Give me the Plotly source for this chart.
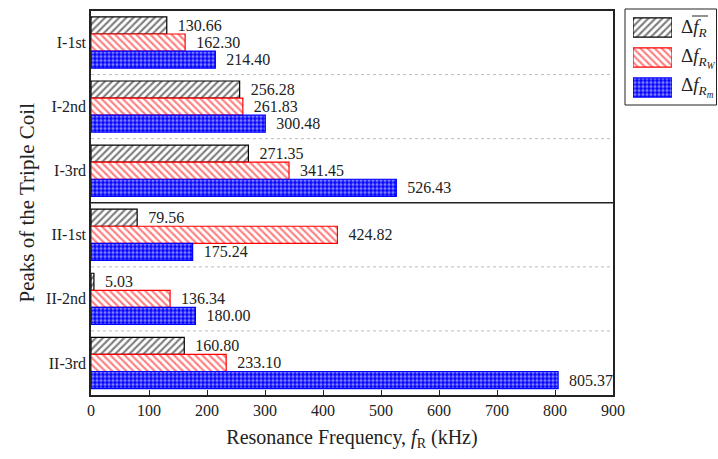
import plotly.graph_objects as go

categories = ["I-1st", "I-2nd", "I-3rd", "II-1st", "II-2nd", "II-3rd"]
avg_vals = [130.66, 256.28, 271.35, 79.56, 5.03, 160.80]
w_vals = [162.30, 261.83, 341.45, 424.82, 136.34, 233.10]
m_vals = [214.40, 300.48, 526.43, 175.24, 180.00, 805.37]
x_ticks = [0, 100, 200, 300, 400, 500, 600, 700, 800, 900]
legend_names = ["Δ<i>f</i><sub><i>R</i></sub>",
                "Δ<i>f</i><sub><i>R<sub>W</sub></i></sub>",
                "Δ<i>f</i><sub><i>R<sub>m</sub></i></sub>"]

FONT = "Liberation Serif, Times New Roman, serif"
W, H = 718, 459
ML, MR, MT, MB = 91, 2, 3, 64
PW, PH = W - ML - MR, H - MT - MB


def px_x(p):
    return (p - ML) / PW


def px_y(p):
    return (H - MB - p) / PH


styles = [
    dict(color="white", line=dict(color="black", width=1.2),
         pattern=dict(shape="/", fgcolor="black", bgcolor="white", size=5, solidity=0.42)),
    dict(color="white", line=dict(color="red", width=1.2),
         pattern=dict(shape="\\", fgcolor="red", bgcolor="white", size=5, solidity=0.42)),
    dict(color="blue", line=dict(color="blue", width=1.2),
         pattern=dict(shape=".", fgcolor="white", bgcolor="blue", size=4, solidity=0.5)),
]

fig = go.Figure()
for name, vals, st in zip(legend_names, [avg_vals, w_vals, m_vals], styles):
    fig.add_trace(go.Bar(
        y=categories, x=vals, orientation="h", name=name, showlegend=False,
        marker=st,
        text=[f"\u00a0\u00a0{v:.2f}" for v in vals], textposition="outside",
        textfont=dict(family=FONT, size=16, color="#222"),
        cliponaxis=False, xaxis="x", yaxis="y",
    ))

# legend swatches drawn as bars on a small overlay axis
for i, st in enumerate(styles):
    fig.add_trace(go.Bar(
        y=[i], x=[1], orientation="h", showlegend=False, marker=st,
        width=0.64, xaxis="x2", yaxis="y2", hoverinfo="skip",
    ))

shapes = []
for yy in [0.5, 1.5, 3.5, 4.5]:
    shapes.append(dict(type="line", xref="x domain", x0=0, x1=1, yref="y", y0=yy, y1=yy,
                       line=dict(color="#bbbbbb", width=1, dash="dot"), layer="below"))
shapes.append(dict(type="line", xref="x domain", x0=0, x1=1, yref="y", y0=2.5, y1=2.5,
                   line=dict(color="#222", width=1.5)))
# legend box
shapes.append(dict(type="rect", xref="paper", yref="paper",
                   x0=px_x(625), x1=px_x(716.5), y0=px_y(105), y1=px_y(9),
                   line=dict(color="#222", width=1), fillcolor="rgba(0,0,0,0)"))
# overline for mean symbol
shapes.append(dict(type="line", xref="paper", yref="paper",
                   x0=px_x(692), x1=px_x(708), y0=px_y(16), y1=px_y(16),
                   line=dict(color="#222", width=1)))

annotations = []
for i, nm in enumerate(legend_names):
    annotations.append(dict(text=nm, xref="paper", yref="paper",
                            x=px_x(679), y=px_y(27.5 + 30 * i), xanchor="left",
                            yanchor="middle", showarrow=False,
                            font=dict(family=FONT, size=19, color="#222")))

fig.update_layout(
    width=W, height=H, autosize=False,
    margin=dict(l=ML, r=MR, t=MT, b=MB, autoexpand=False),
    paper_bgcolor="white", plot_bgcolor="white",
    barmode="group", bargap=0.2, bargroupgap=0,
    font=dict(family=FONT, size=16, color="#222"),
    shapes=shapes, annotations=annotations, showlegend=False,
    xaxis=dict(domain=[0, px_x(613)], range=[0, 900], tickvals=x_ticks,
               ticks="inside", ticklen=5, automargin=False,
               tickcolor="#222", showline=True, linecolor="#222", linewidth=1.5,
               mirror=True, showgrid=False, zeroline=False,
               tickfont=dict(size=16),
               title=dict(text="Resonance Frequency, <i>f</i><sub>R</sub> (kHz)",
                          font=dict(size=20), standoff=12)),
    yaxis=dict(domain=[0, px_y(10.5)], autorange="reversed", showline=True,
               linecolor="#222", linewidth=1.5, automargin=False,
               mirror=True, showgrid=False, ticks="", tickfont=dict(size=16),
               title=dict(text="Peaks of the Triple Coil", font=dict(size=21), standoff=6)),
    xaxis2=dict(domain=[px_x(633), px_x(672)], range=[0, 1], anchor="y2",
                visible=False, fixedrange=True, automargin=False),
    yaxis2=dict(domain=[px_y(102.5), px_y(12.5)], range=[2.5, -0.5], anchor="x2",
                visible=False, fixedrange=True, automargin=False),
)

fig.write_html("out.html")
